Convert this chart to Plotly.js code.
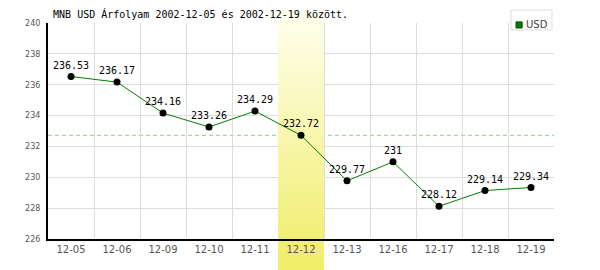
<!DOCTYPE html>
<html>
<head>
<meta charset="utf-8">
<script src="https://cdn.plot.ly/plotly-3.0.1.min.js"></script>
<style>html,body{margin:0;padding:0;background:#fff}#chart{width:600px;height:270px}</style>
</head>
<body>
<div id="chart"></div>
<script>
const dates = ['12-05','12-06','12-09','12-10','12-11','12-12','12-13','12-16','12-17','12-18','12-19'];
const usd = [236.53, 236.17, 234.16, 233.26, 234.29, 232.72, 229.77, 231, 228.12, 229.14, 229.34];
const seriesName = 'USD';
const highlightDate = '12-12';
const titleText = 'MNB USD Árfolyam 2002-12-05 és 2002-12-19 között.';
const yTicks = [226, 228, 230, 232, 234, 236, 238, 240];

const idx = dates.map((d, i) => i);
const hi = dates.indexOf(highlightDate);
const hiValue = usd[hi];
const xRange = [-0.5, dates.length - 0.5];
const yRange = [yTicks[0], yTicks[yTicks.length - 1]];
const boundaries = dates.map((d, i) => i - 0.5).concat([dates.length - 0.5]);

// band geometry in paper coords (extends past plot area)
const bandTop = 1.06, bandBottom = -0.144;
const bandX0 = (hi - 0.5 - xRange[0]) / (xRange[1] - xRange[0]);
const colTop = '#fffff0', colBottom = '#f0ed66';
const svg = "<svg xmlns='http://www.w3.org/2000/svg' width='10' height='100' preserveAspectRatio='none'><defs><linearGradient id='g' x1='0' y1='0' x2='0' y2='1'><stop offset='0' stop-color='" + colTop + "'/><stop offset='1' stop-color='" + colBottom + "'/></linearGradient></defs><rect width='10' height='100' fill='url(#g)'/></svg>";
const src = 'data:image/svg+xml;base64,' + btoa(svg);
const yAt = p => yRange[0] + p * (yRange[1] - yRange[0]);

const band = {
  x: [hi - 0.5, hi + 0.5, hi + 0.5, hi - 0.5],
  y: [yRange[0], yRange[0], yRange[1], yRange[1]],
  mode: 'lines', fill: 'toself', line: {width: 0},
  fillgradient: {type: 'vertical', colorscale: [[0, colBottom], [1, colTop]], start: yAt(bandBottom), stop: yAt(bandTop)},
  hoverinfo: 'skip', showlegend: false
};

const line = {
  x: idx, y: usd, mode: 'lines+markers+text', name: seriesName,
  text: usd.map(String), textposition: 'top center',
  textfont: {family: 'DejaVu Sans Mono', size: 10, color: '#000'},
  line: {color: '#008000', width: 1},
  marker: {color: '#000', size: 7},
  cliponaxis: false, showlegend: false
};

const layout = {
  width: 600, height: 270,
  margin: {l: 48, r: 46, t: 23, b: 31},
  paper_bgcolor: '#fff', plot_bgcolor: '#fff',
  showlegend: false,
  title: {text: titleText, font: {family: 'DejaVu Sans Mono', size: 10, color: '#000'},
    xref: 'paper', x: 0.01, xanchor: 'left', yref: 'container', y: 0.948, yanchor: 'middle'},
  xaxis: {
    range: xRange, tickmode: 'array', tickvals: idx, ticktext: dates,
    showgrid: false, zeroline: false, ticks: '',
    showline: true, linecolor: '#000', linewidth: 2,
    tickfont: {family: 'DejaVu Sans', size: 10, color: '#555'},
    minor: {tickmode: 'array', tickvals: boundaries, showgrid: true, gridcolor: '#dddddd', gridwidth: 1, ticks: ''},
    fixedrange: true
  },
  yaxis: {
    range: yRange, tickmode: 'array', tickvals: yTicks, ticktext: yTicks.map(String),
    showgrid: true, gridcolor: '#dddddd', gridwidth: 1, zeroline: false, ticks: '',
    showline: true, linecolor: '#000', linewidth: 2, ticklabelstandoff: 4,
    tickfont: {family: 'DejaVu Sans', size: 8, color: '#555'},
    fixedrange: true
  },
  images: [{source: src, xref: 'paper', yref: 'paper', x: bandX0, y: bandTop,
    sizex: 1 / (xRange[1] - xRange[0]), sizey: bandTop - bandBottom,
    xanchor: 'left', yanchor: 'top', sizing: 'stretch', layer: 'below'}],
  shapes: [
    {type: 'line', xref: 'paper', x0: 0, x1: 1, yref: 'y', y0: hiValue, y1: hiValue,
      line: {color: '#99c899', width: 1, dash: '4px,3px'}, layer: 'between'},
    {type: 'rect', xref: 'paper', yref: 'paper', x0: 0.915, x1: 0.996, y0: 0.968, y1: 1.06,
      line: {color: '#dddddd', width: 1}, fillcolor: '#fff', layer: 'above'},
    {type: 'rect', xref: 'paper', yref: 'paper', x0: 0.925, x1: 0.937, y0: 0.977, y1: 1.005,
      line: {color: '#004000', width: 1}, fillcolor: '#008000', layer: 'above'}
  ],
  annotations: [{text: seriesName, xref: 'paper', yref: 'paper', x: 0.941, y: 0.991,
    xanchor: 'left', yanchor: 'middle', showarrow: false,
    font: {family: 'DejaVu Sans', size: 10, color: '#444'}}]
};

Plotly.newPlot('chart', [band, line], layout, {displayModeBar: false, staticPlot: true});
</script>
</body>
</html>
